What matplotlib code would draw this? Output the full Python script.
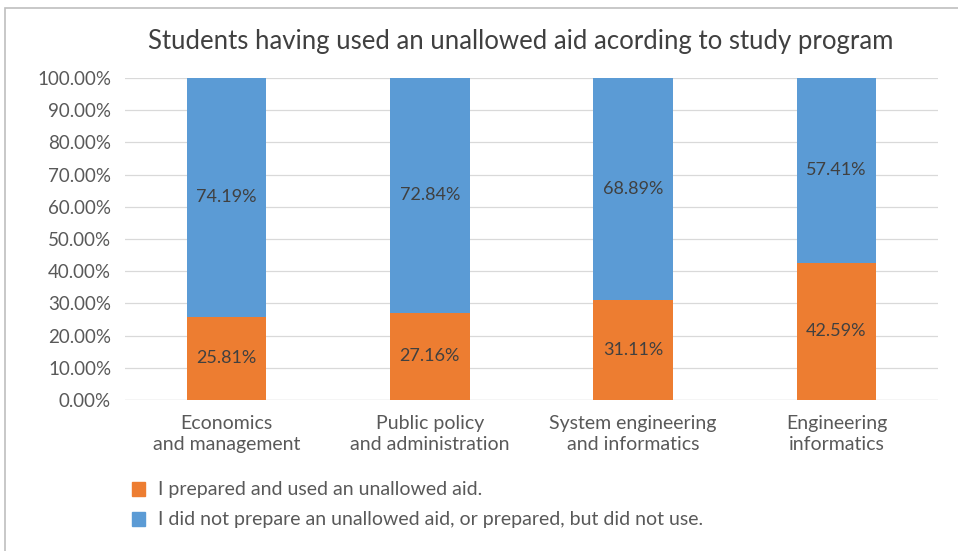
import numpy as np
import matplotlib.pyplot as plt
from matplotlib.patches import Rectangle
from matplotlib.ticker import FuncFormatter

programs = ["Economics\nand management", "Public policy\nand administration",
            "System engineering\nand informatics", "Engineering\ninformatics"]
used = [25.81, 27.16, 31.11, 42.59]
not_used = [74.19, 72.84, 68.89, 57.41]
labels = ["I prepared and used an unallowed aid.",
          "I did not prepare an unallowed aid, or prepared, but did not use."]

orange = "#ED7D31"
blue = "#5B9BD5"
plt.rcParams['font.family'] = ['Lato', 'DejaVu Sans']

W, H = 958, 551
fig = plt.figure(figsize=(W / 100, H / 100), dpi=100)
ax = fig.add_axes([125 / W, 1 - 400 / H, 813 / W, 322 / H])

x = np.arange(len(programs))
b1 = ax.bar(x, used, width=0.39, color=orange, zorder=3)
b2 = ax.bar(x, not_used, width=0.39, bottom=used, color=blue, zorder=3)
for bars in (b1, b2):
    ax.bar_label(bars, labels=[f"{b.get_height():.2f}%" for b in bars],
                 label_type='center', fontsize=13, color="#404040")

ax.set_xlim(-0.5, 3.5)
ax.set_ylim(0, 100)
ax.set_yticks(np.arange(0, 101, 10))
ax.yaxis.set_major_formatter(FuncFormatter(lambda v, p: f"{v:.2f}%"))
ax.set_xticks(x)
ax.set_xticklabels(programs, fontsize=14, color="#595959", linespacing=1.3)
ax.tick_params(axis='y', labelsize=13.5, labelcolor="#595959", length=0, pad=10)
ax.tick_params(axis='x', length=0, pad=11)
ax.grid(axis='y', color="#D9D9D9", linewidth=0.9, zorder=0)
for s in ax.spines.values():
    s.set_visible(False)
ax.axhline(0, color="#D9D9D9", linewidth=0.9, zorder=1)

fig.text(0.5 + 42 / W, 1 - 42 / H, "Students having used an unallowed aid acording to study program",
         ha='center', va='center', fontsize=18.5, color="#404040")

# legend drawn as square markers with text
for i, (lab, col) in enumerate(zip(labels, [orange, blue])):
    y = 1 - (489 + i * 30) / H
    fig.patches.append(Rectangle((132 / W, y - 7 / H), 13 / W, 14 / H,
                                 transform=fig.transFigure, color=col))
    fig.text(158 / W, y, lab, va='center', fontsize=14, color="#595959")

# chart frame
fig.patches.append(Rectangle((5 / W, -0.1), 1.1, 1 - 8 / H + 0.1, transform=fig.transFigure,
                             fill=False, edgecolor="#BFBFBF", linewidth=1.2))

fig.savefig("out.png", dpi=100)
